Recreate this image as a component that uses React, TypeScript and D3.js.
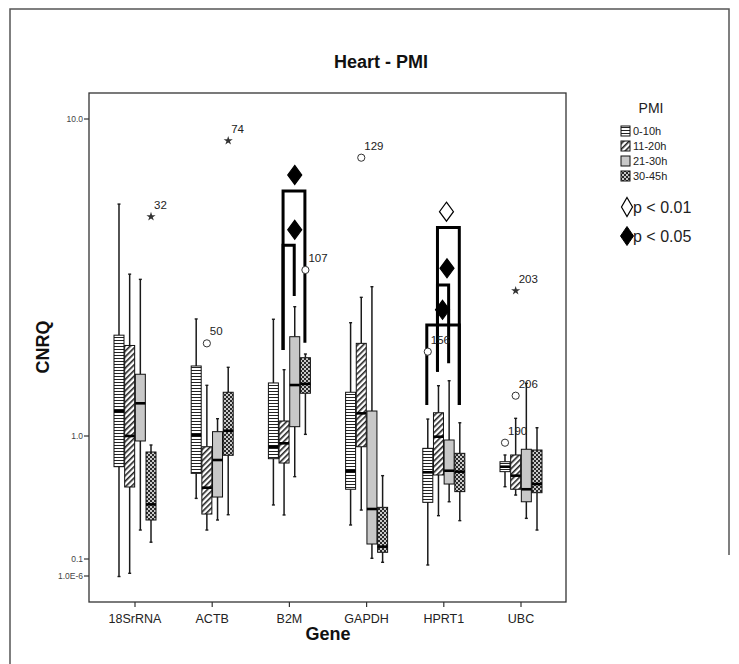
import React from "react";
import * as d3 from "d3";

// Genes on the x axis and PMI groups (one box per group within a gene)
const genes = ["18SrRNA", "ACTB", "B2M", "GAPDH", "HPRT1", "UBC"];
const pmiGroups = ["0-10h", "11-20h", "21-30h", "30-45h"];

// Box statistics per gene (rows) and PMI group (columns), CNRQ units
const whiskerHigh = [
  [5.39, 3.24, 3.12, 0.845],
  [2.34, 1.445, 1.134, 1.647],
  [2.335, 1.619, 2.558, 1.814],
  [2.277, 2.738, 2.958, 0.476],
  [1.131, 1.441, 1.494, 1.101],
  [0.701, 1.137, 1.466, 1.062],
];
const upperQuartile = [
  [2.08, 1.93, 1.566, 0.741],
  [1.663, 0.818, 1.032, 1.374],
  [1.47, 1.115, 2.057, 1.766],
  [1.374, 1.96, 1.199, 0.263],
  [0.794, 1.184, 0.928, 0.723],
  [0.618, 0.701, 0.78, 0.769],
];
const medians = [
  [1.197, 1.0, 1.268, 0.278],
  [1.007, 0.38, 0.638, 1.039],
  [0.818, 0.872, 1.448, 1.46],
  [0.519, 1.179, 0.255, 0.126],
  [0.507, 0.987, 0.522, 0.513],
  [0.563, 0.476, 0.369, 0.407],
];
const lowerQuartile = [
  [0.563, 0.385, 0.911, 0.2075],
  [0.497, 0.232, 0.319, 0.697],
  [0.654, 0.603, 1.07, 1.364],
  [0.369, 0.818, 0.1324, 0.1134],
  [0.289, 0.482, 0.407, 0.353],
  [0.513, 0.369, 0.292, 0.346],
];
const whiskerLow = [
  [7e-7, 6.2e-6, 0.172, 0.137],
  [0.311, 0.172, 0.2075, 0.229],
  [0.275, 0.228, 0.467, 1.012],
  [0.189, 0.25, 0.1013, 0.0107],
  [0.00172, 0.225, 0.292, 0.205],
  [0.387, 0.331, 0.214, 0.172],
];

// Outliers (circle) and extreme values (star) with case numbers
const outliers = [
  { gene: "18SrRNA", group: 3, value: 4.92, label: "32", kind: "star" },
  { gene: "ACTB", group: 1, value: 1.96, label: "50", kind: "circle" },
  { gene: "ACTB", group: 3, value: 8.54, label: "74", kind: "star" },
  { gene: "B2M", group: 3, value: 3.34, label: "107", kind: "circle" },
  { gene: "GAPDH", group: 1, value: 7.55, label: "129", kind: "circle" },
  { gene: "HPRT1", group: 0, value: 1.845, label: "156", kind: "circle" },
  { gene: "UBC", group: 0, value: 0.882, label: "190", kind: "circle" },
  { gene: "UBC", group: 1, value: 2.873, label: "203", kind: "star" },
  { gene: "UBC", group: 1, value: 1.34, label: "206", kind: "circle" },
];

// Significance brackets between two PMI groups of one gene
const brackets = [
  { gene: "B2M", from: 1, to: 3, top: 5.93, fromEnd: 1.868, toEnd: 1.97 },
  { gene: "B2M", from: 1, to: 2, top: 4.0, fromEnd: 1.868, toEnd: 2.765 },
  { gene: "HPRT1", from: 1, to: 3, top: 4.55, fromEnd: 1.595, toEnd: 1.253 },
  { gene: "HPRT1", from: 1, to: 2, top: 2.995, fromEnd: 1.595, toEnd: 1.696 },
  { gene: "HPRT1", from: 0, to: 3, top: 2.24, fromEnd: 1.253, toEnd: 1.253 },
];

// Significance markers: filled = p < 0.05, open = p < 0.01
const markers = [
  { gene: "B2M", slot: 2, value: 6.66, filled: true },
  { gene: "B2M", slot: 2, value: 4.47, filled: true },
  { gene: "HPRT1", slot: 1.75, value: 5.1, filled: false },
  { gene: "HPRT1", slot: 1.8, value: 3.38, filled: true },
  { gene: "HPRT1", slot: 1.38, value: 2.5, filled: true },
];

const yTickValues = [10, 1, 0.1, 1e-6];
const yTickLabels = ["10.0", "1.0", "0.1", "1.0E-6"];

const FONT = "Arial, 'Liberation Sans', sans-serif";
const W = 739;
const H = 664;
const plot = { left: 89, right: 566, top: 93, bottom: 602 };

const x = d3.scalePoint<string>().domain(genes).range([135, 521]);
// Broken log axis: segments between the labelled ticks are spaced unevenly
const y = d3
  .scaleLog()
  .domain([10, 1, 0.1, 1e-6])
  .range([119, 436, 559, 576]);

const SLOT = 10.67;
const BOX_W = 10;
const fills = ["url(#hstripe)", "url(#diag)", "#c8c8c8", "url(#check)"];

const slotX = (gene: string, slot: number) => (x(gene) as number) + (slot - 1.5) * SLOT;

function diamondPath(cx: number, cy: number, w: number, h: number) {
  return `M${cx},${cy - h / 2}L${cx + w / 2},${cy}L${cx},${cy + h / 2}L${cx - w / 2},${cy}Z`;
}

const starPath = d3.symbol().type(d3.symbolStar).size(26)() as string;

export default function App() {
  return (
    <svg
      width={W}
      height={H}
      style={{ position: "absolute", left: 0, top: 0, background: "#fff" }}
      fontFamily={FONT}
    >
      <defs>
        <pattern id="hstripe" width={4} height={3} patternUnits="userSpaceOnUse">
          <rect width={4} height={3} fill="#fff" />
          <rect y={1} width={4} height={1} fill="#222" />
        </pattern>
        <pattern
          id="diag"
          width={4}
          height={4}
          patternUnits="userSpaceOnUse"
          patternTransform="rotate(45)"
        >
          <rect width={4} height={4} fill="#fff" />
          <rect x={0} width={1.6} height={4} fill="#222" />
        </pattern>
        <pattern id="check" width={4} height={4} patternUnits="userSpaceOnUse">
          <rect width={4} height={4} fill="#2a2a2a" />
          <circle cx={1} cy={1} r={1} fill="#fff" />
          <circle cx={3} cy={3} r={1} fill="#fff" />
        </pattern>
      </defs>

      {/* outer frame */}
      <path d={`M10,664V9H729V555`} fill="none" stroke="#555" strokeWidth={1.5} />

      {/* title */}
      <text x={381} y={68} textAnchor="middle" fontSize={18} fontWeight="bold" fill="#111">
        Heart - PMI
      </text>

      {/* plot frame */}
      <rect
        x={plot.left}
        y={plot.top}
        width={plot.right - plot.left}
        height={plot.bottom - plot.top}
        fill="none"
        stroke="#333"
        strokeWidth={1.3}
      />

      {/* y axis ticks */}
      {yTickValues.map((v, i) => (
        <g key={"yt" + i}>
          <line x1={plot.left - 5} x2={plot.left} y1={y(v)} y2={y(v)} stroke="#333" strokeWidth={1.2} />
          <text
            x={plot.left - 6}
            y={y(v)}
            dy="0.35em"
            textAnchor="end"
            fontSize={8.5}
            fill="#444"
          >
            {yTickLabels[i]}
          </text>
        </g>
      ))}

      {/* x axis ticks */}
      {genes.map((g) => (
        <g key={"xt" + g}>
          <line x1={x(g)} x2={x(g)} y1={plot.bottom} y2={plot.bottom + 5} stroke="#333" strokeWidth={1.2} />
          <text x={x(g)} y={623} textAnchor="middle" fontSize={12.5} fill="#222">
            {g}
          </text>
        </g>
      ))}

      {/* axis titles */}
      <text
        transform={`translate(49,347) rotate(-90)`}
        textAnchor="middle"
        fontSize={18}
        fontWeight="bold"
        fill="#111"
      >
        CNRQ
      </text>
      <text x={328} y={640} textAnchor="middle" fontSize={18} fontWeight="bold" fill="#111">
        Gene
      </text>

      {/* significance brackets */}
      {brackets.map((b, i) => {
        const x1 = slotX(b.gene, b.from) - 1;
        const x2 = slotX(b.gene, b.to) - 0.5;
        return (
          <path
            key={"br" + i}
            d={`M${x1},${y(b.fromEnd)}V${y(b.top)}H${x2}V${y(b.toEnd)}`}
            fill="none"
            stroke="#000"
            strokeWidth={3}
          />
        );
      })}

      {/* boxes */}
      {genes.map((gene, gi) =>
        pmiGroups.map((_, k) => {
          const cx = slotX(gene, k);
          const x0 = cx - BOX_W / 2;
          const yHi = y(whiskerHigh[gi][k]);
          const yLo = y(whiskerLow[gi][k]);
          const yQ3 = y(upperQuartile[gi][k]);
          const yQ1 = y(lowerQuartile[gi][k]);
          const yMed = y(medians[gi][k]);
          return (
            <g key={gene + k}>
              <line x1={cx} x2={cx} y1={yHi} y2={yQ3} stroke="#1a1a1a" strokeWidth={1.5} />
              <line x1={cx} x2={cx} y1={yQ1} y2={yLo} stroke="#1a1a1a" strokeWidth={1.5} />
              <line x1={cx - 1.5} x2={cx + 1.5} y1={yHi} y2={yHi} stroke="#1a1a1a" strokeWidth={1.4} />
              <line x1={cx - 1.5} x2={cx + 1.5} y1={yLo} y2={yLo} stroke="#1a1a1a" strokeWidth={1.4} />
              <rect
                x={x0}
                y={yQ3}
                width={BOX_W}
                height={yQ1 - yQ3}
                fill={fills[k]}
                stroke="#111"
                strokeWidth={1}
              />
              <line x1={x0} x2={x0 + BOX_W} y1={yMed} y2={yMed} stroke="#000" strokeWidth={2.6} />
            </g>
          );
        })
      )}

      {/* outliers with case labels */}
      {outliers.map((o, i) => {
        const cx = slotX(o.gene, o.group);
        const cy = y(o.value);
        return (
          <g key={"o" + i}>
            {o.kind === "circle" ? (
              <circle cx={cx} cy={cy} r={3.6} fill="#fff" stroke="#333" strokeWidth={1} />
            ) : (
              <path d={starPath} transform={`translate(${cx},${cy})`} fill="#333" />
            )}
            <text x={cx + 3} y={cy - 8} fontSize={11.5} fill="#222">
              {o.label}
            </text>
          </g>
        );
      })}

      {/* significance diamonds */}
      {markers.map((m, i) => (
        <path
          key={"m" + i}
          d={diamondPath(slotX(m.gene, m.slot), y(m.value), 14, 19)}
          fill={m.filled ? "#000" : "#fff"}
          stroke="#000"
          strokeWidth={1.2}
        />
      ))}

      {/* legend */}
      <g>
        <text x={651} y={113} textAnchor="middle" fontSize={14} fill="#222">
          PMI
        </text>
        {pmiGroups.map((p, k) => {
          const cy = 131 + k * 15;
          return (
            <g key={"lg" + p}>
              <rect x={621} y={cy - 5} width={9} height={10} fill={fills[k]} stroke="#111" strokeWidth={1} />
              <text x={633} y={cy} dy="0.36em" fontSize={11} fill="#222">
                {p}
              </text>
            </g>
          );
        })}
        <path d={diamondPath(627, 207, 11, 19)} fill="#fff" stroke="#000" strokeWidth={1.2} />
        <text x={633} y={207} dy="0.36em" fontSize={16} fill="#222">
          p &lt; 0.01
        </text>
        <path d={diamondPath(627, 236, 13, 19)} fill="#000" stroke="#000" strokeWidth={1} />
        <text x={633} y={236} dy="0.36em" fontSize={16} fill="#222">
          p &lt; 0.05
        </text>
      </g>
    </svg>
  );
}
